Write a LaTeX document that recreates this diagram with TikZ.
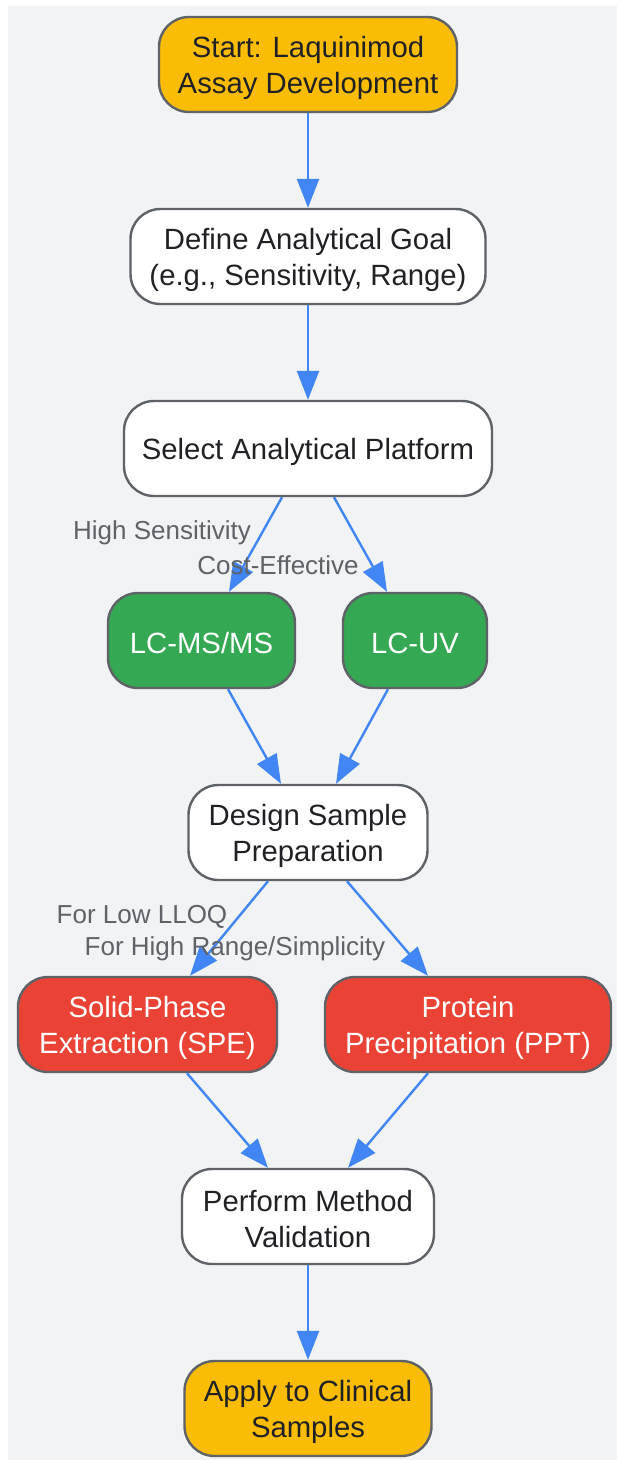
\documentclass[tikz,border=0pt]{standalone}
\usepackage{fontspec}
\setmainfont{Liberation Sans}
\usetikzlibrary{arrows.meta}
\definecolor{bgc}{HTML}{F1F3F5}
\definecolor{bordc}{HTML}{5F6368}
\definecolor{yel}{HTML}{FBBC05}
\definecolor{grn}{HTML}{34A853}
\definecolor{rd}{HTML}{EA4335}
\definecolor{blu}{HTML}{4285F4}
\definecolor{txt}{HTML}{202124}
\tikzset{
  box/.style={draw=bordc, line width=2.4pt, rounded corners=30pt, minimum height=95pt, inner sep=0pt},
  yelbox/.style={box, fill=yel},
  whitebox/.style={box, fill=white},
  grnbox/.style={box, fill=grn},
  redbox/.style={box, fill=rd},
  dtext/.style={align=center, inner sep=0pt, font=\fontsize{29.3}{36}\selectfont, text=txt, yshift=-3pt},
  ltext/.style={dtext, text=white},
  conn/.style={draw=blu, line width=2.4pt, -{Triangle[length=29pt,width=22pt]}},
  elabel/.style={text=bordc, font=\fontsize{26}{30}\selectfont, inner sep=0pt}
}
\begin{document}
\begin{tikzpicture}[x=1pt,y=-1pt]
\useasboundingbox (0,0) rectangle (617,1460);
\fill[bgc] (8,6) rectangle (617,1460);

\node[yelbox, minimum width=298pt, label={[dtext]center:{Start: Laquinimod\\Assay Development}}] (start) at (308,64.5) {};
\node[whitebox, minimum width=355pt, label={[dtext]center:{Define Analytical Goal\\(e.g., Sensitivity, Range)}}] (goal) at (308,256.5) {};
\node[whitebox, minimum width=368pt, label={[dtext]center:{Select Analytical Platform}}] (sel) at (308,448.5) {};
\node[grnbox, minimum width=187pt, label={[ltext]center:{LC-MS/MS}}] (ms) at (201.5,640.5) {};
\node[grnbox, minimum width=144pt, label={[ltext]center:{LC-UV}}] (uv) at (415,640.5) {};
\node[whitebox, minimum width=239pt, label={[dtext]center:{Design Sample\\Preparation}}] (design) at (308,832.5) {};
\node[redbox, minimum width=259pt, label={[ltext]center:{Solid-Phase\\Extraction (SPE)}}] (spe) at (147.5,1024.5) {};
\node[redbox, minimum width=286pt, label={[ltext]center:{Protein\\Precipitation (PPT)}}] (ppt) at (468,1024.5) {};
\node[whitebox, minimum width=252pt, label={[dtext]center:{Perform Method\\Validation}}] (perf) at (308,1216.5) {};
\node[yelbox, minimum width=247pt, label={[dtext]center:{Apply to Clinical\\Samples}}] (apply) at (308,1408.5) {};

\draw[conn] (start.south) -- (goal.north);
\draw[conn] (goal.south) -- (sel.north);
\draw[conn] ([xshift=-26pt]sel.south) -- ([xshift=27.5pt]ms.north);
\draw[conn] ([xshift=26pt]sel.south) -- ([xshift=-28pt]uv.north);
\draw[conn] ([xshift=26.5pt]ms.south) -- ([xshift=-27pt]design.north);
\draw[conn] ([xshift=-27pt]uv.south) -- ([xshift=28pt]design.north);
\draw[conn] ([xshift=-40pt]design.south) -- ([xshift=42.5pt]spe.north);
\draw[conn] ([xshift=39pt]design.south) -- ([xshift=-40pt]ppt.north);
\draw[conn] ([xshift=39.5pt]spe.south) -- ([xshift=-40pt]perf.north);
\draw[conn] ([xshift=-40pt]ppt.south) -- ([xshift=40pt]perf.north);
\draw[conn] (perf.south) -- (apply.north);

\node[elabel] (l1) at (162,533) {High Sensitivity};
\node[elabel] (l2) at (278,565) {Cost-Effective};
\node[elabel] (l3) at (142,917) {For Low LLOQ};
\node[elabel] (l4) at (235,949) {For High Range/Simplicity};
\end{tikzpicture}
\end{document}
